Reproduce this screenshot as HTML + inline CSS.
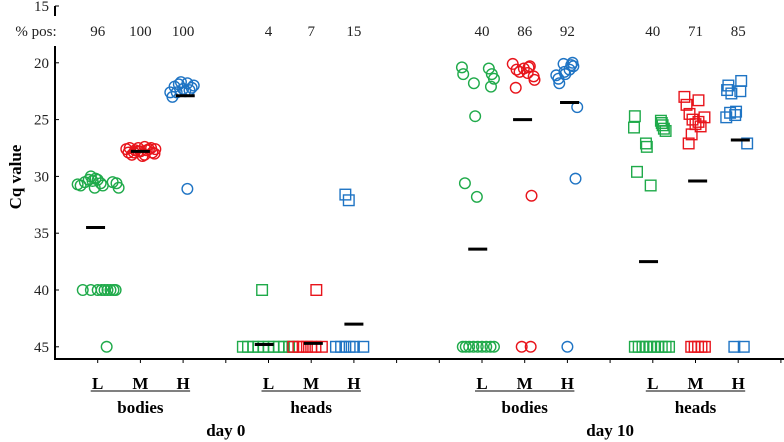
<!DOCTYPE html>
<html><head><meta charset="utf-8"><style>
html,body{margin:0;padding:0;background:#fff;}
svg{display:block;font-family:"Liberation Serif",serif;}
</style></head><body>
<svg id="chart" width="784" height="442" viewBox="0 0 784 442" xmlns="http://www.w3.org/2000/svg"></svg>
<script>
// ---- data ----
const categoryPositions = [1,2,3,5,6,7,10,11,12,14,15,16]; // category slots along x
const categoryLabels = ["L","M","H","L","M","H","L","M","H","L","M","H"];
const percentPositive = ["96","100","100","4","7","15","40","86","92","40","71","85"];
const seriesColors = ["#1faa4a","#e8141b","#1f74c4","#1faa4a","#e8141b","#1f74c4","#1faa4a","#e8141b","#1f74c4","#1faa4a","#e8141b","#1f74c4"];
const seriesShapes = ["circle","circle","circle","square","square","square","circle","circle","circle","square","square","square"];
const medianValues = [34.5,27.8,22.9,44.8,44.7,43.0,36.4,25.0,23.5,37.5,30.4,26.8];
const medianOffsets = [-0.05,0,0.05,-0.1,0.05,0,-0.1,-0.05,0.05,-0.1,0.05,0.05];
const cqValues = [
 [30.7,30.8,30.5,30.3,30.0,30.4,30.2,31.0,30.3,30.6,30.8,30.5,30.6,31.0,40,40,40,40,40,40,40,40,40,45],
 [27.6,27.9,28.1,27.7,27.5,27.8,28.2,27.4,27.6,27.9,28.0,27.5,27.7,27.6,27.9,28.1,27.5,27.8],
 [22.6,23.0,22.1,21.9,21.7,22.3,22.5,21.8,22.4,22.2,22.0,22.6,31.1],
 [40,45,45,45,45,45,45,45,45,45,45,45],
 [40,45,45,45,45,45,45,45],
 [31.6,32.1,45,45,45,45,45,45],
 [20.4,21.0,21.8,24.7,20.5,21.0,21.4,22.1,30.6,31.8,45,45,45,45,45,45,45,45,45],
 [20.1,20.6,20.8,20.5,20.9,20.4,20.3,21.2,21.5,22.2,31.7,45,45],
 [20.1,20.2,20.0,20.3,20.6,21.1,21.4,21.8,20.8,21.0,23.9,30.2,45],
 [24.7,25.7,27.1,27.4,25.1,25.3,25.5,25.8,26.0,29.6,30.8,45,45,45,45,45,45,45,45,45,45],
 [23.0,23.7,23.3,24.5,24.8,25.0,25.4,25.2,25.6,27.1,26.3,45,45,45,45,45],
 [21.6,22.0,22.5,22.4,22.7,24.3,24.4,24.8,24.6,27.1,45,45]
];
const jitterOffsets = [
 [-0.47,-0.4,-0.3,-0.21,-0.16,-0.12,-0.05,-0.07,0,0.07,0.12,0.35,0.44,0.49,-0.35,-0.16,0,0.09,0.16,0.23,0.3,0.37,0.42,0.21],
 [-0.33,-0.28,-0.2,-0.12,-0.05,0,0.05,0.1,0.2,0.28,0.33,-0.25,0.15,0.35,-0.15,0.1,0.25,-0.05],
 [-0.3,-0.25,-0.2,-0.1,-0.05,0,0.05,0.1,0.15,0.2,0.25,-0.15,0.1],
 [-0.15,-0.6,-0.48,-0.36,-0.24,-0.12,0,0.12,0.24,0.36,0.48,0.56],
 [0.12,-0.42,-0.3,-0.2,-0.1,0,0.1,0.25],
 [-0.2,-0.12,-0.42,-0.3,-0.2,-0.1,0,0.22],
 [-0.47,-0.44,-0.19,-0.16,0.16,0.23,0.28,0.21,-0.4,-0.12,-0.45,-0.38,-0.3,-0.2,-0.1,0,0.1,0.2,0.28],
 [-0.28,-0.19,-0.12,-0.02,0.07,0.09,0.12,0.21,0.23,-0.21,0.16,-0.07,0.14],
 [-0.09,0.09,0.12,0.14,0.05,-0.26,-0.21,-0.19,-0.07,-0.05,0.23,0.19,0],
 [-0.42,-0.44,-0.16,-0.14,0.19,0.21,0.23,0.26,0.3,-0.37,-0.05,-0.42,-0.33,-0.24,-0.15,-0.06,0.03,0.12,0.21,0.3,0.38],
 [-0.26,-0.21,0.07,-0.14,0.21,-0.07,0,0.07,0.12,-0.16,-0.09,-0.1,-0.02,0.06,0.14,0.22],
 [0.07,-0.23,0.05,-0.26,-0.16,-0.05,-0.19,-0.28,-0.07,0.21,-0.09,0.13]
];
const yTicks = [15,20,25,30,35,40,45];
const groupLabels = [{text:"bodies",pos:2},{text:"heads",pos:6},{text:"bodies",pos:11},{text:"heads",pos:15}];
const dayLabels = [{text:"day 0",pos:4},{text:"day 10",pos:13}];

// ---- scales ----
const X0 = 55, XU = 42.7;
const xScale = p => X0 + p * XU;
const yScale = v => 6 + (v - 15) * (56.8 / 5);
const NS = "http://www.w3.org/2000/svg";
const svg = document.getElementById("chart");
function mk(tag, attrs, parent) {
  const el = document.createElementNS(NS, tag);
  for (const k in attrs) el.setAttribute(k, attrs[k]);
  (parent || svg).appendChild(el);
  return el;
}

// axes
let el = mk("line", {x1:X0, y1:yScale(15), x2:X0, y2:16, stroke:"#000","stroke-width":2});


el = mk("line", {x1:X0, y1:46, x2:X0, y2:360, stroke:"#000","stroke-width":2});


el = mk("line", {x1:X0-1, y1:359, x2:784, y2:359, stroke:"#000","stroke-width":2});


for (let i = 1; i <= 17; i++) {
  el = mk("line", {x1:xScale(i), y1:359, x2:xScale(i), y2:363, stroke:"#000","stroke-width":1});
  
  
}
yTicks.forEach(t => {
  el = mk("line", {x1:X0, y1:yScale(t), x2:X0+4, y2:yScale(t), stroke:"#000","stroke-width":1});
  
  
  el = mk("text", {x:49, y:yScale(t)+5, "text-anchor":"end","font-size":15, fill:"#222"});
  el.textContent = t;
  
  
});
el = mk("text", {x:0, y:0, transform:"translate(21,177) rotate(-90)", "text-anchor":"middle","font-size":17,"font-weight":"bold"});
el.textContent = "Cq value";


el = mk("text", {x:36, y:36, "text-anchor":"middle","font-size":15, fill:"#222"});
el.textContent = "% pos:";



// points
categoryPositions.forEach((p, g) => {
  const color = seriesColors[g];
  cqValues[g].forEach((v, i) => {
    const cx = xScale(p + jitterOffsets[g][i]), cy = yScale(v);
    let m;
    if (seriesShapes[g] === "circle") {
      m = mk("circle", {cx:cx, cy:cy, r:5.3, fill:"none", stroke:color, "stroke-width":1.4});
    } else {
      m = mk("rect", {x:cx-5.3, y:cy-5.3, width:10.6, height:10.6, fill:"none", stroke:color, "stroke-width":1.4});
    }
    
    
  });
  const mx = xScale(p + medianOffsets[g]);
  el = mk("line", {x1:mx-9.5, y1:yScale(medianValues[g]), x2:mx+9.5, y2:yScale(medianValues[g]), stroke:"#000","stroke-width":3});
  
  
  el = mk("text", {x:xScale(p), y:36, "text-anchor":"middle","font-size":15, fill:"#222"});
  el.textContent = percentPositive[g];
  
  
  el = mk("text", {x:xScale(p), y:389, "text-anchor":"middle","font-size":17,"font-weight":"bold"});
  el.textContent = categoryLabels[g];
  
  
});
groupLabels.forEach(gl => {
  el = mk("line", {x1:xScale(gl.pos-1)-7, y1:391, x2:xScale(gl.pos+1)+7, y2:391, stroke:"#000","stroke-width":1});
  
  
  el = mk("text", {x:xScale(gl.pos), y:413, "text-anchor":"middle","font-size":17,"font-weight":"bold"});
  el.textContent = gl.text;
  
  
});
dayLabels.forEach(d => {
  el = mk("text", {x:xScale(d.pos), y:436, "text-anchor":"middle","font-size":17,"font-weight":"bold"});
  el.textContent = d.text;
  
  
});
</script>
</body></html>
